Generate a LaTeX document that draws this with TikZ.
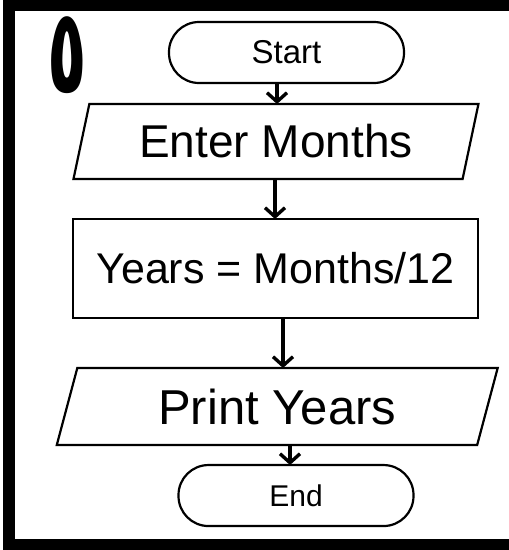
\documentclass[tikz,border=0pt]{standalone}
\usepackage{fontspec}
\setmainfont{Liberation Sans}
\newfontfamily\arabicfont[Script=Arabic]{DejaVu Sans}
\TeXXeTstate=1
\usetikzlibrary{arrows.meta,positioning,shapes.geometric}

\begin{document}
\begin{tikzpicture}[x=1pt,y=-1pt,->,>={Straight Barb[length=9pt,width=20pt]},line width=3.4pt]
	\tikzstyle{every node}=[line width=2.2pt,outer sep=0pt]
	\tikzstyle{term}=[draw,rectangle,rounded corners=30pt,minimum width=235pt,minimum height=61pt]
	\tikzstyle{io}=[draw,trapezium,trapezium left angle=73.6,trapezium right angle=106.4,trapezium stretches=true,minimum height=75pt]
	\tikzstyle{calc}=[draw,rectangle,minimum width=405pt,minimum height=99pt]

	\useasboundingbox (0,0) rectangle (509,550);
	% frame
	\fill[black] (3,0) rectangle (509,11);
	\fill[black] (3,0) rectangle (15,550);
	\fill[black] (3,539) rectangle (509,550);

	\node (five) at (67,55) {\scalebox{0.55}[1]{\arabicfont\bfseries\fontsize{118}{118}\selectfont\beginR ٥\endR}};

	\node[term] (start) at (286.5,52.5) {\fontsize{33}{36}\selectfont Start};
	\node[io,minimum width=406pt] (enter) [below=21pt of start,xshift=-10.5pt] {\fontsize{46}{50}\selectfont Enter Months};
	\node[calc] (years) [below=40pt of enter,xshift=-0.5pt] {\fontsize{43}{47}\selectfont Years = Months/12};
	\node[io,minimum width=441pt,minimum height=77pt] (print) [below=50pt of years,xshift=1.75pt] {\fontsize{49}{53}\selectfont Print Years};
	\node[term] (end) [below=20pt of print,xshift=18.75pt] {\fontsize{30}{33}\selectfont End};

	\draw ([xshift=-9.5pt]start.south) -- ([xshift=-9.5pt]start.south |- enter.north);
	\draw ([xshift=-1pt]enter.south) -- ([xshift=-1pt]enter.south |- years.north);
	\draw ([xshift=7.5pt]years.south) -- ([xshift=7.5pt]years.south |- print.north);
	\draw ([xshift=12.75pt]print.south) -- ([xshift=12.75pt]print.south |- end.north);
\end{tikzpicture}
\end{document}
